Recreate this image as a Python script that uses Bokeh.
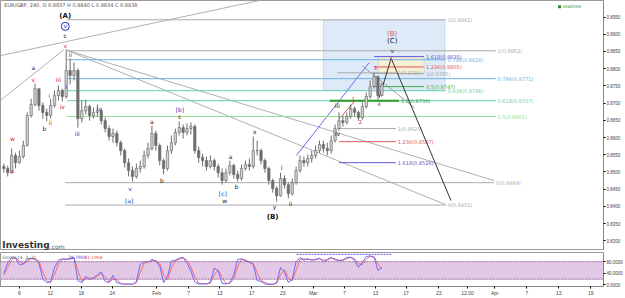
from bokeh.plotting import figure
from bokeh.layouts import column
from bokeh.models import Range1d, FixedTicker, NumeralTickFormatter, BoxAnnotation, Label, ColumnDataSource, Span
from bokeh.core.properties import value
from bokeh.embed import file_html
from bokeh.resources import INLINE

# ---------------- data (EUR/GBP 240) ----------------
closes = [0.8510, 0.8498, 0.8548, 0.8527, 0.8545, 0.8577, 0.8664, 0.8696, 0.8742, 0.8693,
          0.8673, 0.8664, 0.8693, 0.8722, 0.8737, 0.8719, 0.8795, 0.8780, 0.8795, 0.8655,
          0.8678, 0.8690, 0.8664, 0.8673, 0.8678, 0.8649, 0.8626, 0.8603, 0.8612, 0.8585,
          0.8562, 0.8527, 0.8504, 0.8487, 0.8510, 0.8516, 0.8548, 0.8568, 0.8612, 0.8577,
          0.8533, 0.8510, 0.8562, 0.8585, 0.8615, 0.8629, 0.8615, 0.8626, 0.8632, 0.8562,
          0.8542, 0.8533, 0.8516, 0.8533, 0.8516, 0.8498, 0.8475, 0.8498, 0.8519, 0.8493,
          0.8481, 0.8510, 0.8522, 0.8516, 0.8562, 0.8562, 0.8533, 0.8510, 0.8475, 0.8452,
          0.8431, 0.8481, 0.8463, 0.8437, 0.8469, 0.8504, 0.8533, 0.8527, 0.8539, 0.8548,
          0.8562, 0.8580, 0.8568, 0.8562, 0.8591, 0.8626, 0.8649, 0.8644, 0.8661, 0.8684,
          0.8673, 0.8658, 0.8690, 0.8719, 0.8748, 0.8777, 0.8722, 0.8754]
highs = [0.8524, 0.8519, 0.8568, 0.8556, 0.8562, 0.8591, 0.8673, 0.8713, 0.8757, 0.8742,
         0.8702, 0.8684, 0.8713, 0.8737, 0.8751, 0.8742, 0.8856, 0.8830, 0.8818, 0.8801,
         0.8708, 0.8710, 0.8696, 0.8687, 0.8696, 0.8684, 0.8658, 0.8635, 0.8626, 0.8620,
         0.8591, 0.8568, 0.8539, 0.8516, 0.8524, 0.8533, 0.8562, 0.8585, 0.8635, 0.8620,
         0.8583, 0.8539, 0.8577, 0.8606, 0.8626, 0.8647, 0.8638, 0.8641, 0.8644, 0.8638,
         0.8574, 0.8553, 0.8545, 0.8548, 0.8539, 0.8524, 0.8510, 0.8510, 0.8533, 0.8524,
         0.8504, 0.8522, 0.8533, 0.8539, 0.8603, 0.8591, 0.8568, 0.8539, 0.8516, 0.8481,
         0.8458, 0.8498, 0.8490, 0.8469, 0.8481, 0.8516, 0.8548, 0.8545, 0.8551, 0.8562,
         0.8577, 0.8591, 0.8591, 0.8585, 0.8606, 0.8638, 0.8673, 0.8664, 0.8673, 0.8696,
         0.8690, 0.8678, 0.8702, 0.8731, 0.8766, 0.8789, 0.8780, 0.8760]
lows = [0.8498, 0.8487, 0.8495, 0.8510, 0.8524, 0.8539, 0.8574, 0.8658, 0.8690, 0.8678,
        0.8655, 0.8647, 0.8655, 0.8687, 0.8708, 0.8705, 0.8713, 0.8754, 0.8766, 0.8629,
        0.8644, 0.8667, 0.8649, 0.8655, 0.8661, 0.8638, 0.8615, 0.8591, 0.8585, 0.8574,
        0.8548, 0.8513, 0.8487, 0.8472, 0.8481, 0.8498, 0.8510, 0.8539, 0.8562, 0.8562,
        0.8519, 0.8493, 0.8504, 0.8553, 0.8577, 0.8606, 0.8597, 0.8606, 0.8609, 0.8553,
        0.8527, 0.8516, 0.8504, 0.8510, 0.8504, 0.8484, 0.8463, 0.8469, 0.8490, 0.8481,
        0.8472, 0.8475, 0.8504, 0.8504, 0.8510, 0.8548, 0.8522, 0.8498, 0.8463, 0.8440,
        0.8414, 0.8428, 0.8452, 0.8423, 0.8431, 0.8463, 0.8498, 0.8516, 0.8516, 0.8527,
        0.8539, 0.8556, 0.8556, 0.8548, 0.8553, 0.8585, 0.8620, 0.8632, 0.8638, 0.8655,
        0.8661, 0.8649, 0.8652, 0.8684, 0.8713, 0.8742, 0.8710, 0.8719]
first_open = 0.8516

stoch_k = [40, 75, 95, 92, 70, 72, 90, 92, 88, 75, 20, 8, 10, 60, 85, 90, 88, 90, 95, 15,
           8, 30, 18, 25, 35, 45, 12, 8, 33, 8, 4, 2, 3, 2, 12, 70, 80, 78, 88, 82,
           65, 8, 30, 82, 85, 92, 95, 75, 48, 10, 3, 4, 3, 10, 58, 48, 6, 3, 8, 35,
           88, 90, 82, 78, 70, 15, 12, 3, 2, 2, 8, 60, 45, 8, 20, 80, 95, 85, 90, 85,
           88, 92, 80, 88, 95, 86, 84, 86, 95, 95, 85, 60, 78, 98, 100, 95, 50, 60]
stoch_d = [35, 60, 85, 94, 82, 72, 82, 90, 90, 82, 45, 15, 9, 35, 72, 88, 89, 89, 92, 50,
           12, 20, 24, 22, 30, 40, 28, 10, 20, 18, 6, 3, 3, 2, 7, 42, 75, 79, 83, 85,
           74, 35, 18, 58, 83, 88, 93, 85, 62, 28, 6, 4, 3, 6, 35, 52, 26, 5, 5, 22,
           62, 89, 86, 80, 74, 42, 14, 8, 3, 2, 5, 35, 52, 25, 14, 50, 88, 90, 88, 87,
           86, 90, 86, 84, 92, 90, 85, 85, 90, 95, 90, 72, 70, 88, 99, 97, 72, 55]

# time axis: trading-day index (0 = "6")
date_tick_days = [0, 3.96, 7.93, 11.9, 17.6, 21.7, 25.7, 29.8, 33.8, 37.7, 41.7, 45.7,
                  49.6, 53.8, 57.5, 61.0, 65.1, 69.2, 73.3]
date_tick_labels = ["6", "12", "18", "24", "Feb", "7", "13", "17", "23", "Mar", "7", "13",
                    "17", "23", "12:00", "Apr", "7", "13", "19"]
price_ticks = [0.830, 0.835, 0.840, 0.845, 0.850, 0.855, 0.860, 0.865, 0.870, 0.875,
               0.880, 0.885, 0.890, 0.895, 0.900]
stoch_ticks = [0, 40, 80]

# Elliott wave labels
wave_text = ["(A)", "c", "v", "w", "x", "a", "v", "b", "i", "ii", "iii", "iv",
             "i", "ii", "iii", "iv", "v", "[a]", "a", "b", "[b]", "c", "[c]", "w",
             "a", "b", "x", "y", "(B)", "i", "ii", "iii", "iv",
             "1", "2", "3", "4", "5", "v", "(C)", "(B)"]
wave_day = [5.88, 5.88, 5.88, -0.9, -0.9, 1.79, 1.79, 3.2, 3.84, 3.96, 4.99, 5.5,
            6.0, 6.52, 7.42, 10.23, 14.19, 14.07, 17.0, 18.29, 20.59, 20.59, 26.09, 26.34,
            27.1, 27.88, 30.18, 32.74, 32.48, 33.63, 34.78, 40.79, 40.79,
            42.84, 43.73, 45.65, 46.16, 47.7, 47.83, 47.83, 47.83]
wave_price = [0.8952, 0.8897, 0.8867, 0.8597, 0.8504, 0.8803, 0.8769, 0.8626, 0.8722, 0.8644, 0.8769, 0.8690,
              0.8748, 0.8841, 0.8612, 0.8684, 0.8452, 0.8417, 0.8647, 0.8475, 0.8681, 0.8661, 0.8437, 0.8417,
              0.8545, 0.8458, 0.8617, 0.8399, 0.8370, 0.8513, 0.8408, 0.8693, 0.8612,
              0.8713, 0.8644, 0.8801, 0.8696, 0.8827, 0.8853, 0.8879, 0.8902]
wave_color = ["#111111", "#111111", "#d02020", "#d02020", "#d02020", "#111111", "#d02020", "#111111",
              "#d02020", "#d02020", "#d02020", "#d02020",
              "#2030c0", "#2030c0", "#2030c0", "#2030c0", "#2030c0", "#2030c0", "#111111", "#111111",
              "#2030c0", "#111111", "#2030c0", "#111111",
              "#111111", "#111111", "#111111", "#111111", "#111111", "#111111", "#111111", "#111111", "#111111",
              "#d02020", "#d02020", "#d02020", "#d02020", "#e07070", "#333333", "#111111", "#d06060"]
wave_size = ["7px", "6px", "6px", "6px", "6px", "6px", "6px", "6px", "6px", "6px", "6px", "6px",
             "6px", "6px", "6px", "6px", "6px", "6px", "6px", "6px", "6px", "6px", "6px", "6px",
             "6px", "6px", "6px", "6px", "7px", "6px", "6px", "6px", "6px",
             "5px", "5px", "5px", "5px", "5px", "6px", "7px", "7px"]
wave_weight = ["bold", "normal", "normal", "normal", "normal", "normal", "normal", "normal",
               "normal", "normal", "normal", "normal", "normal", "normal", "normal", "normal",
               "normal", "normal", "normal", "normal", "normal", "normal", "normal", "normal",
               "normal", "normal", "normal", "normal", "bold", "normal", "normal", "normal", "normal",
               "normal", "normal", "normal", "normal", "normal", "normal", "normal", "normal"]

# Fibonacci levels: label, price, start day, end day, colour
fib_label = ["1(0.8942)", "1(0.8852)", "0.786(0.8826)", "0.786(0.8771)", "0.618(0.8736)",
             "0.618(0.8707)", "0.5(0.8661)", "0(0.8469)", "0(0.8402)",
             "1.618(0.8835)", "1.236(0.8805)", "1(0.8785)", "0.5(0.8747)", "0.5(0.8706)",
             "0(0.8780)", "1(0.8625)", "1.236(0.8587)", "1.618(0.8526)"]
fib_price = [0.8942, 0.8852, 0.8826, 0.8771, 0.8736, 0.8707, 0.8661, 0.8469, 0.8404,
             0.8835, 0.8805, 0.8786, 0.8748, 0.8707, 0.8788, 0.8626, 0.8588, 0.8527]
fib_start = [6.14, 6.14, 6.14, 6.14, 6.14, 6.14, 6.14, 5.88, 5.88,
             45.5, 45.5, 45.5, 45.5, 39.8, 40.8, 41.0, 41.0, 41.0]
fib_end = [54.7, 61.1, 54.7, 61.1, 54.7, 61.1, 61.1, 60.9, 54.7,
           51.9, 51.9, 51.9, 51.9, 48.7, 48.3, 48.3, 48.3, 48.3]
fib_color = ["#aaaaaa", "#aaaaaa", "#6ab4e0", "#6ab4e0", "#5fd0b0", "#5fd0b0", "#8ee08e",
             "#aaaaaa", "#aaaaaa", "#5858d8", "#e05858", "#aaaaaa", "#3cb043", "#2a9a2a",
             "#aaaaaa", "#aaaaaa", "#e05858", "#5858d8"]
fib_width = [1, 1, 1, 1, 1, 1, 1, 1, 1, 1, 1, 1, 1, 2, 1, 1, 1, 1]

# trend lines (day, price pairs)
trend_lines = [
    ([-2.43, 30.8], [0.8838, 0.8998], "#b0b0b0"),
    ([-2.43, 5.75], [0.8708, 0.8856], "#b0b0b0"),
    ([6.14, 60.9], [0.8853, 0.8475], "#b0b0b0"),
    ([6.14, 54.7], [0.8853, 0.8405], "#b0b0b0"),
    ([35.55, 44.88], [0.8548, 0.8818], "#6a6af0"),
    ([44.0, 50.7], [0.8808, 0.8686], "#a0a0a0"),
    ([41.05, 43.0], [0.8655, 0.8705], "#e05050"),
]
projection_day = [46.16, 47.7, 55.37]
projection_price = [0.8716, 0.8830, 0.8417]

W = 625
XR = Range1d(-2.43, 74.94)
FONT = value("DejaVu Sans")

# ---------------- main price panel ----------------
p = figure(width=W, height=250, x_range=XR, y_range=Range1d(0.8272, 0.8998),
           y_axis_location="right", x_axis_location=None, toolbar_location=None,
           output_backend="svg", min_border_left=0, min_border_right=20,
           min_border_top=0, min_border_bottom=0)
p.grid.visible = False
p.outline_line_color = "#9a9a9a"
p.yaxis.ticker = FixedTicker(ticks=price_ticks)
p.yaxis.formatter = NumeralTickFormatter(format="0.0000")
p.yaxis.major_label_text_font_size = "4.5px"
p.yaxis.major_label_text_font = "Liberation Sans"
p.yaxis.major_label_text_color = "#444444"
p.yaxis.major_tick_out = 2
p.yaxis.major_tick_in = 0
p.yaxis.minor_tick_line_color = None
p.yaxis.major_label_standoff = 1
p.yaxis.axis_line_color = "#888888"

# blue target zone & yellow box
p.add_layout(BoxAnnotation(left=39.0, right=54.6, bottom=0.8737, top=0.8940,
                           fill_color="#dce8f7", fill_alpha=0.9, line_color="#7f95d8", line_width=1,
                           level="underlay"))
p.add_layout(BoxAnnotation(left=46.04, right=51.92, bottom=0.8786, top=0.8835,
                           fill_color="#f6efd3", fill_alpha=1.0, line_color="#aaaaaa", line_width=1,
                           level="underlay"))

for xs, ys, c in trend_lines:
    p.line(xs, ys, line_color=c, line_width=1)

fib_src = ColumnDataSource(dict(x0=fib_start, x1=fib_end, y=fib_price, c=fib_color,
                                w=fib_width, t=fib_label, tx=[e + 0.25 for e in fib_end]))
p.segment(x0="x0", y0="y", x1="x1", y1="y", line_color="c", line_width="w", source=fib_src)
p.text(x="tx", y="y", text="t", text_color="c", text_font_size="5px", text_font=FONT,
       text_baseline="middle", text_align="left", source=fib_src)

p.line(projection_day, projection_price, line_color="#333333", line_width=1)

# candles
bar_day = [-2 + 0.5 * i for i in range(len(closes))]
opens = [first_open] + closes[:-1]
up = [c >= o for o, c in zip(opens, closes)]
csrc = ColumnDataSource(dict(x=bar_day, o=opens, c=closes, h=highs, l=lows,
                             top=[max(o, c) for o, c in zip(opens, closes)],
                             bot=[min(o, c) for o, c in zip(opens, closes)],
                             fill=["#d4d4d4" if u else "#6e6e6e" for u in up]))
p.segment(x0="x", y0="l", x1="x", y1="h", line_color="#6e6e6e", line_width=1, source=csrc)
p.vbar(x="x", top="top", bottom="bot", width=0.3, fill_color="fill", line_color="#6e6e6e",
       line_width=0.7, source=csrc)

# wave labels
wsrc = ColumnDataSource(dict(x=wave_day, y=wave_price, t=wave_text, c=wave_color,
                             s=wave_size, fw=wave_weight))
p.text(x="x", y="y", text="t", text_color="c", text_font_size="s", text_font_style="fw",
       text_font=FONT, text_align="center", text_baseline="middle", source=wsrc)
p.scatter([5.88], [0.8923], marker="circle", size=8, fill_color=None, line_color="#2030c0", line_width=1)
p.text([5.88], [0.8924], text=["v"], text_color="#2030c0", text_font_size="6px", text_font=FONT,
       text_align="center", text_baseline="middle")

# header, logo, legend
p.add_layout(Label(x=-1.95, y=0.8984, text="EUR/GBP, 240,   O 0.8837  H 0.8840  L 0.8834  C 0.8838",
                   text_font_size="5px", text_color="#555555", text_font="DejaVu Sans",
                   text_baseline="middle"))
p.add_layout(Label(x=-2.2, y=0.8287, text="Investing", text_font_size="9px", text_font_style="bold",
                   text_color="#333333", text_font="DejaVu Sans", text_baseline="middle"))
p.add_layout(Label(x=3.9, y=0.8284, text=".com", text_font_size="6px",
                   text_color="#555555", text_font="DejaVu Sans", text_baseline="middle"))
p.scatter([69.3], [0.8980], marker="square", size=3, fill_color="#2a8a3a", line_color=None)
p.add_layout(Label(x=69.7, y=0.8980, text="realtime", text_font_size="4.5px", text_color="#2a8a3a",
                   text_font="DejaVu Sans", text_baseline="middle"))
p.add_layout(Label(x=74.94, y=closes[-1], x_offset=1, text=f"{closes[-1]:.4f}", text_font_size="5px",
                   text_font_style="bold", text_color="white", background_fill_color="black",
                   text_font="Liberation Sans", text_baseline="middle"))

# ---------------- stochastic panel ----------------
s = figure(width=W, height=48, x_range=XR, y_range=Range1d(-5.4, 111.7),
           y_axis_location="right", toolbar_location=None, output_backend="svg",
           min_border_left=0, min_border_right=20, min_border_top=2, min_border_bottom=0)
s.grid.visible = False
s.outline_line_color = "#9a9a9a"
s.add_layout(BoxAnnotation(bottom=20, top=80, fill_color="#e3c9e6", fill_alpha=1.0, level="underlay"))
for lvl in (20, 80):
    s.add_layout(Span(location=lvl, dimension="width", line_color="#9a6aa0", line_width=1,
                      line_dash="2 1"))
s.line(bar_day, stoch_d, line_color="#ff6a6a", line_width=1)
s.line(bar_day, stoch_k, line_color="#6a6aff", line_width=1)
s.line([35.55, 47.7], [105.4, 105.4], line_color="#5a5aff", line_width=1, line_dash="2 1")
s.add_layout(Label(x=-2.2, y=96, text="Stoch(14, 3, 3)", text_font_size="4.5px", text_color="#666666",
                   text_font="DejaVu Sans", text_baseline="middle"))
s.add_layout(Label(x=6.2, y=96, text="78.7901", text_font_size="4.5px", text_color="#4a4af0",
                   text_font="DejaVu Sans", text_baseline="middle"))
s.add_layout(Label(x=8.3, y=96, text="81.1904", text_font_size="4.5px", text_color="#f04a4a",
                   text_font="DejaVu Sans", text_baseline="middle"))
s.yaxis.ticker = FixedTicker(ticks=stoch_ticks)
s.yaxis.formatter = NumeralTickFormatter(format="0.0000")
s.yaxis.major_label_text_font_size = "4.5px"
s.yaxis.major_label_text_font = "Liberation Sans"
s.yaxis.major_label_text_color = "#444444"
s.yaxis.major_tick_out = 2
s.yaxis.major_tick_in = 0
s.yaxis.minor_tick_line_color = None
s.yaxis.major_label_standoff = 1
s.yaxis.axis_line_color = "#888888"
s.xaxis.ticker = FixedTicker(ticks=date_tick_days)
s.xaxis.major_label_overrides = {d: l for d, l in zip(date_tick_days, date_tick_labels)}
s.xaxis.major_label_text_font_size = "5px"
s.xaxis.major_label_text_font = "Liberation Sans"
s.xaxis.major_label_text_color = "#444444"
s.xaxis.major_tick_out = 2
s.xaxis.major_tick_in = 0
s.xaxis.minor_tick_line_color = None
s.xaxis.major_label_standoff = 1
s.xaxis.axis_line_color = "#888888"

layout = column(p, s, spacing=0)
open("out.html", "w").write(file_html(layout, INLINE))
